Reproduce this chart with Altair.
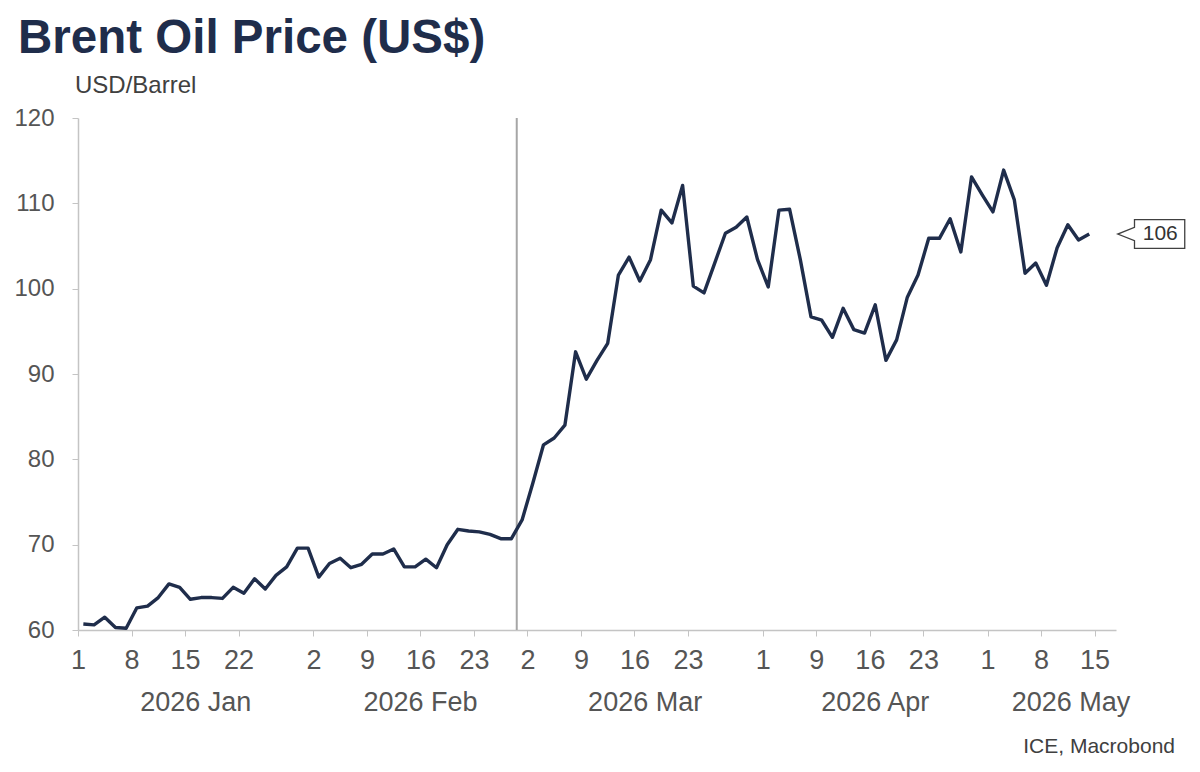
import json

import altair as alt
import pandas as pd

# Brent crude, USD per barrel, one value per ICE trading day starting 2026-01-01
prices = [
    60.7, 60.6, 61.5, 60.3, 60.2, 62.6, 62.8, 63.8, 65.4, 65.0,
    63.6, 63.8, 63.8, 63.7, 65.0, 64.3, 66.0, 64.8, 66.4, 67.4,
    69.6, 69.6, 66.2, 67.8, 68.4, 67.3, 67.7, 68.9, 68.9, 69.5,
    67.4, 67.4, 68.3, 67.3, 70.0, 71.8, 71.6, 71.5, 71.2, 70.7,
    70.7, 72.9, 77.2, 81.7, 82.5, 84.0, 92.6, 89.4, 91.6, 93.6,
    101.6, 103.7, 100.9, 103.4, 109.2, 107.7, 112.1, 100.3, 99.5, 103.0,
    106.5, 107.2, 108.4, 103.4, 100.2, 109.2, 109.3, 103.4, 96.7, 96.3,
    94.3, 97.7, 95.2, 94.8, 98.1, 91.6, 94.0, 99.0, 101.6, 105.9,
    105.9, 108.2, 104.3, 113.1, 111.0, 109.0, 113.9, 110.4, 101.8, 103.0,
    100.4, 104.8, 107.5, 105.7, 106.4,
]

# exchange holidays dropped from the weekday calendar
holidays = ["2026-04-03"]

tick_dates = [
    "2026-01-01", "2026-01-08", "2026-01-15", "2026-01-22",
    "2026-02-02", "2026-02-09", "2026-02-16", "2026-02-23",
    "2026-03-02", "2026-03-09", "2026-03-16", "2026-03-23",
    "2026-04-01", "2026-04-09", "2026-04-16", "2026-04-23",
    "2026-05-01", "2026-05-08", "2026-05-15",
]
month_names = ["2026 Jan", "2026 Feb", "2026 Mar", "2026 Apr", "2026 May"]
month_centers = [11, 32, 53, 74.5, 92.8]   # in trading-day units
event_date = "2026-02-27"                  # vertical marker
axis_end = 97

# trading-day slots: each day occupies [slot, slot + 1)
calendar = [d.strftime("%Y-%m-%d") for d in pd.bdate_range("2026-01-01", "2026-05-29")]
calendar = [d for d in calendar if d not in holidays]
slot = {d: i for i, d in enumerate(calendar)}

df = pd.DataFrame({
    "date": calendar[:len(prices)],
    "price": prices,
})
df["pos"] = [slot[d] + 0.5 for d in df["date"]]

last = df.iloc[[-1]].copy()
last["label"] = f"{round(last['price'].iloc[0])}"

tick_pos = [slot[d] for d in tick_dates]
tick_txt = [str(int(d[-2:])) for d in tick_dates]
label_expr = f"{json.dumps(tick_txt)}[indexof({json.dumps(tick_pos)}, datum.value)]"

months = pd.DataFrame({"pos": month_centers, "name": month_names})
event = pd.DataFrame({"pos": [slot[event_date]]})

NAVY = "#1f2d4b"
GREY_TXT = "#555555"
AXIS_GREY = "#c4c4c4"
FONT = "Liberation Sans"

W, H = 1038, 512

x_scale = alt.Scale(domain=[0, axis_end], nice=False, zero=False)
y_scale = alt.Scale(domain=[60, 120], nice=False, zero=False)

x_axis = alt.Axis(
    values=tick_pos, labelExpr=label_expr, title=None, grid=False,
    domainColor=AXIS_GREY, domainWidth=1.5, tickColor=AXIS_GREY, tickSize=6,
    labelFontSize=27, labelColor=GREY_TXT, labelPadding=11, labelFont=FONT,
    labelOverlap=False, labelFlush=False,
)
y_axis = alt.Axis(
    values=[60, 70, 80, 90, 100, 110, 120], title=None, grid=False,
    domainColor=AXIS_GREY, domainWidth=1.5, tickColor=AXIS_GREY, tickSize=6,
    labelFontSize=24, labelColor=GREY_TXT, labelPadding=18, labelFont=FONT,
)

X = alt.X("pos:Q", scale=x_scale, axis=x_axis)
Y = alt.Y("price:Q", scale=y_scale, axis=y_axis)

line = alt.Chart(df).mark_line(color=NAVY, strokeWidth=3.4, strokeJoin="round").encode(x=X, y=Y)

marker = alt.Chart(event).mark_rule(color="#a6a6a6", strokeWidth=2).encode(x=X)

# end-of-series callout pointing back at the last value
callout_shape = "M -0.5 -0.43 L 1 -0.43 L 1 0.43 L -0.5 0.43 L -0.5 0.2 L -1 0 L -0.5 -0.2 Z"
callout = alt.Chart(last).mark_point(
    shape=callout_shape, size=67 * 67, filled=True, fill="white",
    stroke="#404040", strokeWidth=1.3, opacity=1, xOffset=62,
).encode(x=X, y=Y)
callout_txt = alt.Chart(last).mark_text(
    font=FONT, fontSize=21, color="#333333", xOffset=71, align="center", baseline="middle",
).encode(x=X, y=Y, text="label:N")

month_txt = alt.Chart(months).mark_text(
    font=FONT, fontSize=27, color=GREY_TXT, align="center", baseline="middle",
).encode(x=X, y=alt.value(H + 73), text="name:N")


def note(text, x, y, **kw):
    return alt.Chart(pd.DataFrame({"t": [text]})).mark_text(font=FONT, **kw).encode(
        x=alt.value(x), y=alt.value(y), text="t:N"
    )


title = note("Brent Oil Price (US$)", -60, -65, fontSize=47.5, fontWeight="bold",
             color=NAVY, align="left", baseline="alphabetic")
unit = note("USD/Barrel", -3, -32, fontSize=24, color="#404040", align="left", baseline="middle")
source = note("ICE, Macrobond", W + 59, H + 117, fontSize=21, color="#404040",
              align="right", baseline="middle")

chart = alt.layer(
    marker, line, callout, callout_txt, month_txt, title, unit, source
).properties(
    width=W, height=H,
    padding={"left": 78, "top": 118, "right": 84, "bottom": 142},
    autosize=alt.AutoSizeParams(type="none"),
    background="white",
).configure_view(stroke=None)

chart.save("out.html", embed_options={"renderer": "svg", "actions": False})
